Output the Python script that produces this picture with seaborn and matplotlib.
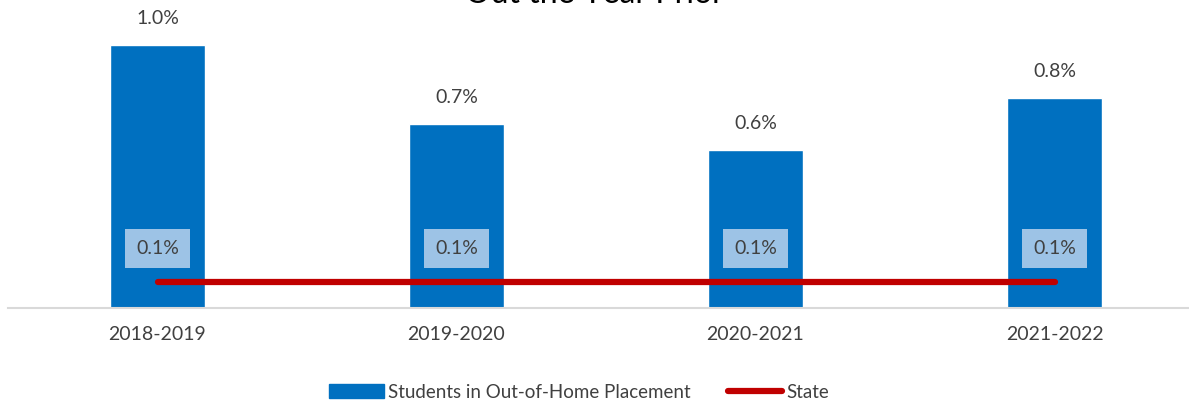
import pandas as pd
import seaborn as sns
import matplotlib.pyplot as plt
from matplotlib.patches import Rectangle
from matplotlib.lines import Line2D

years = ["2018-2019", "2019-2020", "2020-2021", "2021-2022"]
students = [1.0, 0.7, 0.6, 0.8]
state = [0.1, 0.1, 0.1, 0.1]

BLUE = "#0070C0"
RED = "#C00000"
TEXT = "#404040"


def main() -> None:
    sns.set_theme(style="white")
    plt.rcParams["font.family"] = ["Lato", "DejaVu Sans"]

    df = pd.DataFrame({"year": years, "students": students, "state": state})

    fig = plt.figure(figsize=(11.89, 4.0), dpi=100)
    ax = fig.add_axes([8 / 1189, 92 / 400, 1 - 8 / 1189, 308 / 400])

    sns.barplot(data=df, x="year", y="students", color=BLUE, width=0.315,
                saturation=1, ax=ax)
    sns.lineplot(data=df, x="year", y="state", color=RED, linewidth=4.5,
                 sort=False, ax=ax, solid_capstyle="round")

    ax.set_xlim(-0.5, -0.5 + 1181 / 299)
    ax.set_ylim(0, 308 / 263)

    # bar value labels
    for i, v in enumerate(students):
        ax.annotate(f"{v:.1f}%", (i, v), xytext=(0, 19), textcoords="offset points",
                    ha="center", va="center", fontsize=14, color=TEXT)
    # state value labels in boxes
    for i, v in enumerate(state):
        ax.annotate(f"{v:.1f}%", (i, v), xytext=(0, 24), textcoords="offset points",
                    ha="center", va="center", fontsize=14, color=TEXT,
                    bbox=dict(boxstyle="square,pad=0.55", fc="#9DC3E6", ec="none"))

    for s in ["top", "left", "right"]:
        ax.spines[s].set_visible(False)
    ax.spines["bottom"].set_color("#D9D9D9")
    ax.spines["bottom"].set_linewidth(1.5)
    ax.set_yticks([])
    ax.set_xlabel("")
    ax.set_ylabel("")
    ax.tick_params(axis="x", length=0, pad=13, labelsize=14, labelcolor=TEXT)

    # title is partly cut off at the top edge, as in the original
    fig.text(0.5, 1 - 3 / 400, "Out the Year Prior", ha="center", va="baseline",
             fontsize=23, color="black")

    handles = [Rectangle((0, 0), 1, 1, color=BLUE),
               Line2D([0], [0], color=RED, linewidth=4.5, solid_capstyle="round")]
    fig.legend(handles, ["Students in Out-of-Home Placement", "State"],
               loc="center", bbox_to_anchor=(0.487, 0.02), ncol=2, frameon=False,
               fontsize=13.5, labelcolor=TEXT, handlelength=2.9, handletextpad=0.2,
               columnspacing=2.0)

    fig.savefig("out.png", dpi=100)


if __name__ == "__main__":
    main()
